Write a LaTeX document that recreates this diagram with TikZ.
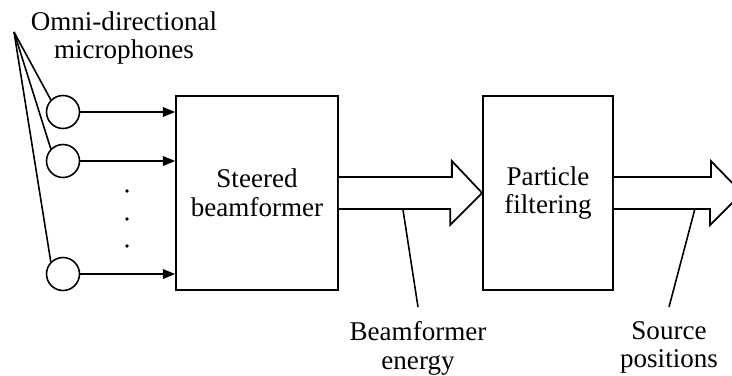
\documentclass[tikz,border=0pt]{standalone}
\usepackage{fontspec}
\setmainfont{Liberation Serif}
\usetikzlibrary{positioning}
\usetikzlibrary{calc}
\usetikzlibrary{arrows.meta}

\begin{document}
\begin{tikzpicture}[x=0.02cm, y=-0.02cm, line width=0.9pt,
  block/.style={draw, line width=1pt, minimum width=3.24cm, minimum height=3.88cm, align=center, font=\fontsize{15.4}{16.4}\selectfont},
  mic/.style={draw, circle, line width=0.9pt, minimum size=0.66cm, inner sep=0pt},
  lbl/.style={align=center, font=\fontsize{15.4}{16}\selectfont},
  fat/.style={draw, line width=1pt, fill=white},
  feed/.style={-{Triangle[length=7pt,width=5.5pt]}}]

\useasboundingbox (0,0) rectangle (732,375);

% blocks
\node[block] (bf) at (257,193) {Steered\\beamformer};
\node[block, minimum width=2.6cm] (pf) at (548,193) {Particle\\filtering};

% microphones
\node[mic] (m1) at (63,112) {};
\node[mic] (m2) at (63,161) {};
\node[mic] (m3) at (63,274) {};

\foreach \y in {191,219,246}
  \fill (127,\y) circle (1.8);

\draw[feed] (m1) -- (m1 -| bf.west);
\draw[feed] (m2) -- (m2 -| bf.west);
\draw[feed] (m3) -- (m3 -| bf.west);

\node[lbl] (omni) at (124,38) {Omni-directional\\microphones};
\coordinate (lead) at (14,32);
\draw (lead) -- (m1.north west);
\draw (lead) -- (m2.north west);
\draw (lead) -- (m3.north west);

% fat arrows
\draw[fat] ($(bf.east)+(0,-16)$) -- ++(113,0) -- ++(0,-16) -- (pf.west) -- ++(-32,32) -- ++(0,-16) -- ($(bf.east)+(0,16)$);
\coordinate (out) at (742,193);
\draw[fat] ($(pf.east)+(0,-16)$) -- ++(97,0) -- ++(0,-16) -- (out) -- ++(-32,32) -- ++(0,-16) -- ($(pf.east)+(0,16)$);

% labels
\node[lbl, anchor=north, inner ysep=8pt] (bel) at (418,307) {Beamformer\\energy};
\coordinate (be) at ($(bf.east)+(64,16)$);
\draw (be) -- (bel.north);

\node[lbl, anchor=north, inner ysep=8pt] (spl) at (669,307) {Source\\positions};
\coordinate (sp) at ($(pf.east)+(81,16)$);
\draw (sp) -- (spl.north);

\end{tikzpicture}
\end{document}
